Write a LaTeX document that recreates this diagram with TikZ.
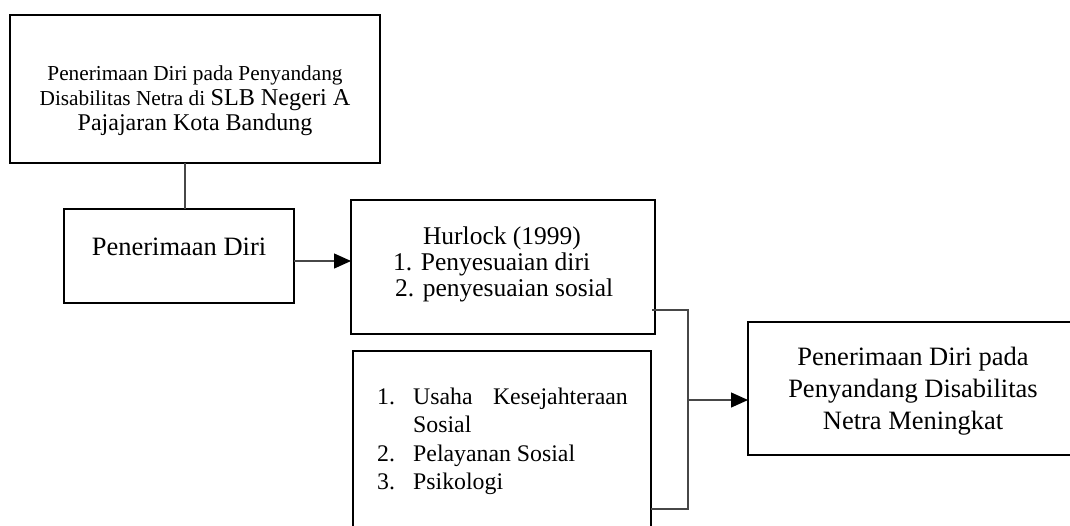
\documentclass[tikz,border=0pt]{standalone}
\usepackage{fontspec}
\setmainfont{Liberation Serif}
\usetikzlibrary{arrows.meta}
\newcommand\fsz[1]{\fontsize{#1}{#1}\selectfont}
\tikzset{
  box/.style={draw=black, line width=2.5pt, fill=white, inner sep=0pt, outer sep=0pt},
  conn/.style={draw=black!72, line width=1.3pt},
  arr/.style={conn, -{Triangle[length=17pt,width=15pt,fill=black,color=black]}},
  txt/.style={inner sep=0pt, anchor=base},
  txtl/.style={inner sep=0pt, anchor=base west},
  txtr/.style={inner sep=0pt, anchor=base east},
}
\begin{document}
\begin{tikzpicture}[x=1pt,y=-1pt]
\useasboundingbox (0,0) rectangle (1070,525);
\clip (0,0) rectangle (1070,525);
% boxes
\node[box, minimum width=370pt, minimum height=148pt] (A) at (195,89) {};
\node[box, minimum width=230pt, minimum height=94pt] (B) at (179,256) {};
\node[box, minimum width=304pt, minimum height=134pt] (C) at (503,267) {};
\node[box, minimum width=298pt, minimum height=209pt] (D) at (502,455.5) {};
\node[box, minimum width=332pt, minimum height=133pt] (E) at (914,388.5) {};
% texts box A
\node[txt] (a1) at (195,80) {\fsz{21.3}Penerimaan Diri pada Penyandang};
\node[txt] (a2) at (195,105) {\fsz{21.3}Disabilitas Netra di \fsz{24.2}SLB Negeri A};
\node[txt] (a3) at (195,130) {\fsz{24}Pajajaran Kota Bandung};
% box B
\node[txt] (b1) at (179,255) {\fsz{26.5}Penerimaan Diri};
% box C
\node[txt] (c1) at (502,244) {\fsz{25.5}Hurlock (1999)};
\node[txtl] (c2) at (393,270) {\fsz{25.5}1. Penyesuaian diri};
\node[txtl] (c3) at (395,296) {\fsz{25.5}2. penyesuaian sosial};
% box D
\node[txtl] (d1n) at (377,404) {\fsz{23.8}1.};
\node[txtl] (d1a) at (413,404) {\fsz{23.8}Usaha};
\node[txtr] (d1b) at (628,404) {\fsz{23.8}Kesejahteraan};
\node[txtl] (d1c) at (413,432) {\fsz{23.8}Sosial};
\node[txtl] (d2n) at (377,461) {\fsz{23.8}2.};
\node[txtl] (d2a) at (413,461) {\fsz{23.8}Pelayanan Sosial};
\node[txtl] (d3n) at (377,489) {\fsz{23.8}3.};
\node[txtl] (d3a) at (413,489) {\fsz{23.8}Psikologi};
% box E
\node[txt] (e1) at (913,365) {\fsz{26.5}Penerimaan Diri pada};
\node[txt] (e2) at (913,397) {\fsz{26.5}Penyandang Disabilitas};
\node[txt] (e3) at (913,429) {\fsz{26.5}Netra Meningkat};
% connectors
\coordinate (ab) at (185,0);
\draw[conn] (ab |- A.south) -- (ab |- B.north);
\coordinate (bc) at (0,261);
\draw[arr] (bc -| B.east) -- (bc -| C.west);
\coordinate (cs) at (652,310);
\coordinate (jt) at (688,310);
\coordinate (jb) at (688,509);
\coordinate (j) at (688,400);
\draw[conn] (cs) -- (jt) -- (jb) -- (jb -| D.east);
\draw[arr] (j) -- (j -| E.west);
\end{tikzpicture}
\end{document}
